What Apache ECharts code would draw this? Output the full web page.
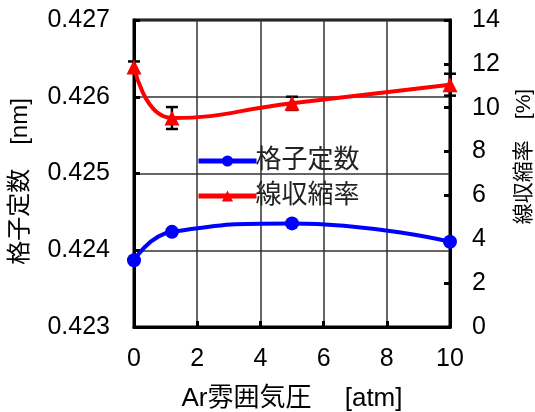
<!DOCTYPE html>
<html>
<head>
<meta charset="utf-8">
<script src="https://cdn.jsdelivr.net/npm/echarts@6/dist/echarts.min.js"></script>
<style>
  html, body { margin: 0; padding: 0; background: #fff; }
  #chart { width: 535px; height: 412px; }
</style>
</head>
<body>
<div id="chart"></div>
<script>
// Ar pressure (atm)
const pressure = [0, 1.2, 5, 10];
// Lattice constant (nm), left axis
const latticeConst = [0.42387, 0.42424, 0.42435, 0.42411];
// Linear shrinkage (%), right axis
const shrinkage = [11.86, 9.53, 10.2, 11.05];
// Shrinkage error half-widths (%)
const shrinkageErr = [0.25, 0.5, 0.3, 0.5];

const xTicks = { min: 0, max: 10, interval: 2 };
const leftTicks = { min: 0.423, max: 0.427, interval: 0.001 };
const rightTicks = { min: 0, max: 14, interval: 2 };

const FONT = "'Liberation Sans', Arial, 'Noto Sans CJK JP', sans-serif";

const lineData = pressure.map((x, i) => [x, latticeConst[i]]);
const shrinkData = pressure.map((x, i) => [x, shrinkage[i]]);
const errData = pressure.map((x, i) => [x, shrinkage[i] - shrinkageErr[i], shrinkage[i] + shrinkageErr[i]]);

const chart = echarts.init(document.getElementById('chart'), null, { renderer: 'canvas' });

const axisLabelStyle = { color: '#000', fontSize: 25, fontFamily: FONT };

chart.setOption({
  animation: false,
  backgroundColor: '#fff',
  grid: {
    left: 134, right: 85, top: 20, bottom: 85,
    outerBoundsMode: 'none',
    containLabel: false,
    show: true, borderColor: '#000', borderWidth: 3, backgroundColor: 'transparent'
  },
  legend: {
    orient: 'vertical',
    left: 191, top: 143,
    itemWidth: 58, itemHeight: 14, itemGap: 9,
    data: ['格子定数', '線収縮率'],
    lineStyle: { width: 5 },
    textStyle: { color: '#222', fontSize: 26, fontFamily: FONT, padding: [0, 0, 0, -6] }
  },
  xAxis: {
    type: 'value',
    min: xTicks.min, max: xTicks.max, interval: xTicks.interval,
    name: 'Ar雰囲気圧　 [atm]',
    nameLocation: 'middle', nameGap: 59,
    nameTextStyle: { color: '#000', fontSize: 26, fontFamily: FONT },
    axisLine: { show: true, lineStyle: { color: '#000', width: 3 } },
    axisTick: { show: true, inside: true, length: 6, lineStyle: { color: '#000', width: 3 } },
    axisLabel: Object.assign({ margin: 20 }, axisLabelStyle),
    splitLine: { show: true, lineStyle: { color: '#333', width: 1.5 } }
  },
  yAxis: [
    {
      type: 'value',
      min: leftTicks.min, max: leftTicks.max, interval: leftTicks.interval,
      name: '格子定数　[nm]',
      nameLocation: 'middle', nameGap: 102, nameRotate: 90,
      nameTextStyle: { color: '#000', fontSize: 24, fontFamily: FONT, padding: [0, 16, 0, 0] },
      axisLine: { show: true, lineStyle: { color: '#000', width: 3 } },
      axisTick: { show: true, inside: true, length: 6, lineStyle: { color: '#000', width: 3 } },
      axisLabel: Object.assign({ margin: 24, formatter: v => v.toFixed(3) }, axisLabelStyle),
      splitLine: { show: true, lineStyle: { color: '#333', width: 1.5 } }
    },
    {
      type: 'value',
      position: 'right',
      min: rightTicks.min, max: rightTicks.max, interval: rightTicks.interval,
      name: '線収縮率　[%]',
      nameLocation: 'middle', nameGap: 64, nameRotate: 90,
      nameTextStyle: { color: '#000', fontSize: 21, fontFamily: FONT, padding: [0, 0, 0, 34] },
      axisLine: { show: true, lineStyle: { color: '#000', width: 3 } },
      axisTick: { show: true, inside: true, length: 6, lineStyle: { color: '#000', width: 3 } },
      axisLabel: Object.assign({ margin: 22 }, axisLabelStyle),
      splitLine: { show: false }
    }
  ],
  series: [
    {
      name: 'errorbars',
      type: 'custom',
      yAxisIndex: 1,
      z: 1,
      encode: { x: 0, y: [1, 2] },
      data: errData,
      renderItem: function (params, api) {
        const lo = api.coord([api.value(0), api.value(1)]);
        const hi = api.coord([api.value(0), api.value(2)]);
        const cap = 6;
        const st = { stroke: '#000', lineWidth: 2.5 };
        return {
          type: 'group',
          children: [
            { type: 'line', shape: { x1: lo[0], y1: lo[1], x2: hi[0], y2: hi[1] }, style: st },
            { type: 'line', shape: { x1: lo[0] - cap, y1: lo[1], x2: lo[0] + cap, y2: lo[1] }, style: st },
            { type: 'line', shape: { x1: hi[0] - cap, y1: hi[1], x2: hi[0] + cap, y2: hi[1] }, style: st }
          ]
        };
      }
    },
    {
      name: '格子定数',
      type: 'line',
      yAxisIndex: 0,
      z: 3,
      data: lineData,
      smooth: 0.5,
      symbol: 'circle',
      symbolSize: 14,
      itemStyle: { color: '#0000ff' },
      lineStyle: { color: '#0000ff', width: 4 }
    },
    {
      name: '線収縮率',
      type: 'line',
      yAxisIndex: 1,
      z: 3,
      data: shrinkData,
      smooth: 0.5,
      symbol: 'triangle',
      symbolSize: 15,
      itemStyle: { color: '#ff0000' },
      lineStyle: { color: '#ff0000', width: 4 }
    }
  ]
});
</script>
</body>
</html>
